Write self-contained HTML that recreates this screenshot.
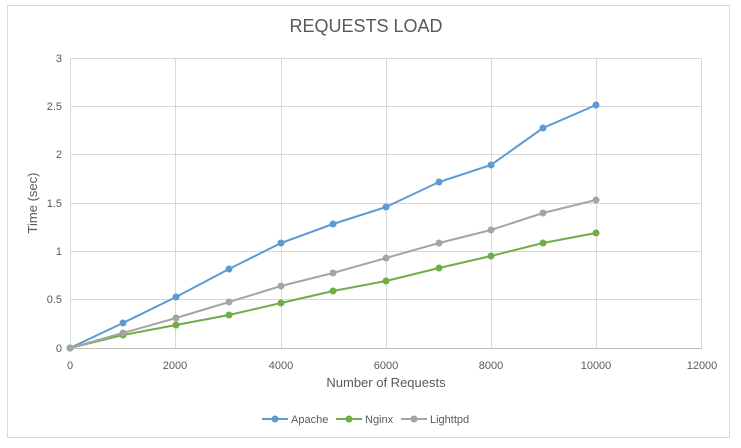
<!DOCTYPE html>
<html><head><meta charset="utf-8"><style>html,body{margin:0;padding:0;background:#fff;}svg{display:block}</style></head>
<body>
<svg width="741" height="448" viewBox="0 0 741 448" xmlns="http://www.w3.org/2000/svg" font-family="Liberation Sans, sans-serif">
<rect x="7.5" y="5.5" width="722" height="432" fill="#fff" stroke="#d9d9d9"/>
<text x="366" y="32" text-anchor="middle" font-size="18" fill="#595959">REQUESTS LOAD</text>
<g stroke="#d9d9d9" stroke-width="1">
<line x1="70" y1="58.5" x2="702" y2="58.5"/><line x1="70" y1="106.5" x2="702" y2="106.5"/><line x1="70" y1="154.5" x2="702" y2="154.5"/><line x1="70" y1="203.5" x2="702" y2="203.5"/><line x1="70" y1="251.5" x2="702" y2="251.5"/><line x1="70" y1="299.5" x2="702" y2="299.5"/>
<line x1="70.5" y1="58" x2="70.5" y2="348"/><line x1="175.5" y1="58" x2="175.5" y2="348"/><line x1="281.5" y1="58" x2="281.5" y2="348"/><line x1="386.5" y1="58" x2="386.5" y2="348"/><line x1="491.5" y1="58" x2="491.5" y2="348"/><line x1="596.5" y1="58" x2="596.5" y2="348"/><line x1="701.5" y1="58" x2="701.5" y2="348"/>
<line x1="70" y1="348.5" x2="702" y2="348.5" stroke="#bfbfbf"/>
</g>
<g font-size="11" fill="#595959" text-anchor="end">
<text x="62" y="62">3</text><text x="62" y="110">2.5</text><text x="62" y="158">2</text><text x="62" y="207">1.5</text><text x="62" y="255">1</text><text x="62" y="303">0.5</text><text x="62" y="352">0</text>
</g>
<g font-size="11" fill="#595959" text-anchor="middle">
<text x="70" y="369">0</text><text x="175" y="369">2000</text><text x="281" y="369">4000</text><text x="386" y="369">6000</text><text x="491" y="369">8000</text><text x="596" y="369">10000</text><text x="702" y="369">12000</text>
</g>
<text x="386" y="387" text-anchor="middle" font-size="13" fill="#595959">Number of Requests</text>
<text transform="translate(37,203) rotate(-90)" text-anchor="middle" font-size="13" fill="#595959">Time (sec)</text>
<g fill="none" stroke-width="2">
<polyline stroke="#5B9BD5" points="70,348 123,323 176,297 229,269 281,243 333,224 386,207 439,182 491,165 543,128 596,105"/>
<polyline stroke="#70AD47" points="70,348 123,335 176,325 229,315 281,303 333,291 386,281 439,268 491,256 543,243 596,233"/>
<polyline stroke="#A5A5A5" points="70,348 123,333 176,318 229,302 281,286 333,273 386,258 439,243 491,230 543,213 596,200"/>
</g>
<g fill="#5B9BD5"><circle cx="70" cy="348" r="3.5"/><circle cx="123" cy="323" r="3.5"/><circle cx="176" cy="297" r="3.5"/><circle cx="229" cy="269" r="3.5"/><circle cx="281" cy="243" r="3.5"/><circle cx="333" cy="224" r="3.5"/><circle cx="386" cy="207" r="3.5"/><circle cx="439" cy="182" r="3.5"/><circle cx="491" cy="165" r="3.5"/><circle cx="543" cy="128" r="3.5"/><circle cx="596" cy="105" r="3.5"/></g>
<g fill="#70AD47"><circle cx="70" cy="348" r="3.5"/><circle cx="123" cy="335" r="3.5"/><circle cx="176" cy="325" r="3.5"/><circle cx="229" cy="315" r="3.5"/><circle cx="281" cy="303" r="3.5"/><circle cx="333" cy="291" r="3.5"/><circle cx="386" cy="281" r="3.5"/><circle cx="439" cy="268" r="3.5"/><circle cx="491" cy="256" r="3.5"/><circle cx="543" cy="243" r="3.5"/><circle cx="596" cy="233" r="3.5"/></g>
<g fill="#A5A5A5"><circle cx="70" cy="348" r="3.5"/><circle cx="123" cy="333" r="3.5"/><circle cx="176" cy="318" r="3.5"/><circle cx="229" cy="302" r="3.5"/><circle cx="281" cy="286" r="3.5"/><circle cx="333" cy="273" r="3.5"/><circle cx="386" cy="258" r="3.5"/><circle cx="439" cy="243" r="3.5"/><circle cx="491" cy="230" r="3.5"/><circle cx="543" cy="213" r="3.5"/><circle cx="596" cy="200" r="3.5"/></g>
<g stroke-width="2">
<line x1="262" y1="419" x2="288" y2="419" stroke="#5B9BD5"/><circle cx="275" cy="419" r="3.5" fill="#5B9BD5"/>
<line x1="336" y1="419" x2="362" y2="419" stroke="#70AD47"/><circle cx="349" cy="419" r="3.5" fill="#70AD47"/>
<line x1="401" y1="419" x2="427" y2="419" stroke="#A5A5A5"/><circle cx="414" cy="419" r="3.5" fill="#A5A5A5"/>
</g>
<g font-size="11" fill="#595959">
<text x="291" y="423">Apache</text><text x="365" y="423">Nginx</text><text x="430" y="423">Lighttpd</text>
</g>
</svg>
</body></html>
